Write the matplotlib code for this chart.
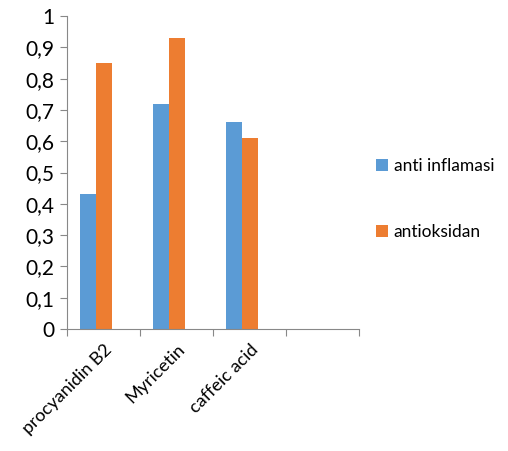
import matplotlib.pyplot as plt
import matplotlib.ticker as mticker
import numpy as np

categories = ["procyanidin B2", "Myricetin", "caffeic acid", ""]
anti_inflamasi = [0.43, 0.72, 0.66, 0]
antioksidan = [0.85, 0.93, 0.61, 0]

plt.rcParams["font.family"] = ["Lato", "DejaVu Sans"]

fig = plt.figure(figsize=(5.08, 4.51), dpi=100)
ax = fig.add_axes([0.132, 0.2705, 0.575, 0.694])

x = np.arange(len(categories))
w = 0.219
# third (empty) series slot on the right, as in the original sheet
ax.bar(x[:3] - w, anti_inflamasi[:3], w, color="#5B9BD5", label="anti inflamasi")
ax.bar(x[:3], antioksidan[:3], w, color="#ED7D31", label="antioksidan")

ax.set_xlim(-0.5, len(categories) - 0.5)
ax.set_ylim(0, 1)
ax.set_yticks(np.arange(0, 1.01, 0.1))
ax.yaxis.set_major_formatter(mticker.FuncFormatter(
    lambda v, p: "0" if abs(v) < 1e-9 else ("1" if abs(v - 1) < 1e-9 else f"{v:.1f}".replace(".", ","))))
ax.tick_params(axis="y", labelsize=15, length=5, color="#888888", pad=4)

ax.set_xticks(np.arange(-0.5, len(categories), 1))
ax.set_xticks(x, minor=True)
ax.set_xticklabels([])
ax.set_xticklabels(categories, minor=True, rotation=45, ha="right",
                   rotation_mode="anchor", fontsize=13)
ax.tick_params(axis="x", which="major", length=5, color="#888888")
ax.tick_params(axis="x", which="minor", length=0, pad=9)

for s in ["top", "right"]:
    ax.spines[s].set_visible(False)
for s in ["left", "bottom"]:
    ax.spines[s].set_color("#888888")

fig.legend(loc="upper left", bbox_to_anchor=(0.71, 0.685), frameon=False,
           fontsize=12.5, labelspacing=2.9, handlelength=0.7, handleheight=0.7,
           handletextpad=0.3)

fig.savefig("out.png", dpi=100)
